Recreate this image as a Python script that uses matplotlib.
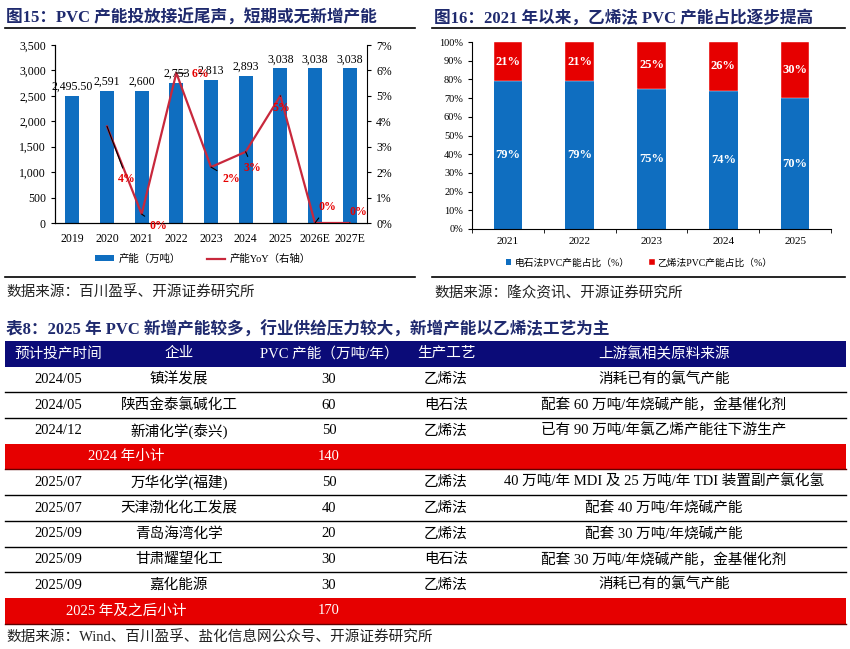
import matplotlib
matplotlib.use('Agg')
import matplotlib.pyplot as plt
import matplotlib.ticker as ticker
from matplotlib.patches import Rectangle, Patch
from matplotlib.lines import Line2D
import numpy as np

plt.rcParams['font.family'] = ['Liberation Serif', 'Noto Sans CJK SC']
plt.rcParams['axes.unicode_minus'] = False

W, H = 850, 649

# ---- fig 15 data
years15 = ['2019', '2020', '2021', '2022', '2023', '2024', '2025', '2026E', '2027E']
capacity = [2495.5, 2591, 2600, 2753, 2813, 2893, 3038, 3038, 3038]
cap_labels = ['2,495.50', '2,591', '2,600', '2,753', '2,813', '2,893', '3,038', '3,038', '3,038']
yoy = [np.nan, 3.8, 0.35, 5.9, 2.2, 2.8, 5.0, 0.0, 0.0]
yoy_labels = ['', '4%', '0%', '6%', '2%', '3%', '5%', '0%', '0%']

# ---- fig 16 data
years16 = ['2021', '2022', '2023', '2024', '2025']
calcium_share = [79, 79, 75, 74, 70]
ethylene_share = [21, 21, 25, 26, 30]

# ---- table 8 data
tbl_header = ['预计投产时间', '企业', 'PVC 产能（万吨/年）', '生产工艺', '上游氯相关原料来源']
plan_dates = ['2024/05', '2024/05', '2024/12', '2025/07', '2025/07', '2025/09', '2025/09', '2025/09']
companies = ['镇洋发展', '陕西金泰氯碱化工', '新浦化学(泰兴)', '万华化学(福建)', '天津渤化化工发展',
             '青岛海湾化学', '甘肃耀望化工', '嘉化能源']
new_caps = [30, 60, 50, 50, 40, 20, 30, 30]
processes = ['乙烯法', '电石法', '乙烯法', '乙烯法', '乙烯法', '乙烯法', '电石法', '乙烯法']
chlorine_src = ['消耗已有的氯气产能', '配套 60 万吨/年烧碱产能，金基催化剂', '已有 90 万吨/年氯乙烯产能往下游生产',
                '40 万吨/年 MDI 及 25 万吨/年 TDI 装置副产氯化氢', '配套 40 万吨/年烧碱产能', '配套 30 万吨/年烧碱产能',
                '配套 30 万吨/年烧碱产能，金基催化剂', '消耗已有的氯气产能']
subtotal_names = ['2024 年小计', '2025 年及之后小计']
subtotal_vals = [140, 170]
subtotal_after = [3, 8]

NAVY = '#1F2A6E'
BLUE = '#0F6EC0'
RED = '#E60000'
LINE_RED = '#C8283C'


def fx(x):
    return x / W


def fy(y):
    return 1 - y / H


fig = plt.figure(figsize=(8.5, 6.49), dpi=100)

# headings, rules and sources
fig.text(fx(6), fy(18), '图15：PVC 产能投放接近尾声，短期或无新增产能', fontsize=12, fontweight='bold',
         color=NAVY, va='center')
fig.text(fx(434), fy(18), '图16：2021 年以来，乙烯法 PVC 产能占比逐步提高', fontsize=12, fontweight='bold',
         color=NAVY, va='center')
fig.text(fx(6), fy(330), '表8：2025 年 PVC 新增产能较多，行业供给压力较大，新增产能以乙烯法工艺为主',
         fontsize=12, fontweight='bold', color=NAVY, va='center')
for x0, x1 in [(5, 415), (432, 845)]:
    for yy in [28, 277]:
        fig.add_artist(Line2D([fx(x0), fx(x1)], [fy(yy), fy(yy)], color='black', lw=1.2))
fig.text(fx(6), fy(293), '数据来源：百川盈孚、开源证券研究所', fontsize=10.5, color='#222222', va='center')
fig.text(fx(434), fy(293), '数据来源：隆众资讯、开源证券研究所', fontsize=10.5, color='#222222', va='center')
fig.text(fx(6), fy(637), '数据来源：Wind、百川盈孚、盐化信息网公众号、开源证券研究所', fontsize=10.5,
         color='#222222', va='center')

# ---- fig 15
ax1 = fig.add_axes([fx(55), fy(223), (367 - 55) / W, (223 - 45) / H])
x15 = np.arange(len(years15))
bars = ax1.bar(x15, capacity, width=0.4, color=BLUE, zorder=2)
for b, lab in zip(bars, cap_labels):
    ax1.annotate(lab, (b.get_x() + b.get_width() / 2, b.get_height()), xytext=(0, 3),
                 textcoords='offset pixels', ha='center', va='bottom', fontsize=8.5)
ax1.set_xlim(-0.5, len(years15) - 0.5)
ax1.set_ylim(0, 3500)
ax1.set_yticks(np.arange(0, 3501, 500))
ax1.yaxis.set_major_formatter(ticker.FuncFormatter(lambda v, p: format(int(v), ',')))
ax1.set_xticks(x15)
ax1.set_xticklabels(years15)
ax1.tick_params(axis='x', length=0, labelsize=8.5, pad=7)
ax1.tick_params(axis='y', labelsize=8.5, length=3, direction='out')
ax1.spines['top'].set_visible(False)
ax1.spines['right'].set_visible(False)

ax2 = ax1.twinx()
ax2.plot(x15, yoy, color=LINE_RED, lw=1.6, zorder=3)
ax2.set_ylim(0, 7)
ax2.set_yticks(np.arange(0, 8, 1))
ax2.yaxis.set_major_formatter(ticker.FuncFormatter(lambda v, p: '%d%%' % v))
ax2.tick_params(axis='y', labelsize=8.5, length=3, direction='out')
ax2.spines['top'].set_visible(False)

yoy_offsets = [(0, 0), (20, -53), (17, -12), (24, -1), (20, -12), (7, -16), (1, -12), (12, 16), (9, 11)]
for i, (v, lab) in enumerate(zip(yoy, yoy_labels)):
    if not lab:
        continue
    ax2.annotate(lab, (x15[i], v), xytext=yoy_offsets[i], textcoords='offset pixels',
                 ha='center', va='center', fontsize=8.5, fontweight='bold', color=RED,
                 arrowprops=dict(arrowstyle='-', color='black', lw=0.8, shrinkA=2, shrinkB=0))

leg1 = [Patch(facecolor=BLUE, label='产能（万吨）'),
        Line2D([0], [0], color=LINE_RED, lw=1.6, label='产能YoY（右轴）')]
fig.legend(handles=leg1, loc='center', bbox_to_anchor=(fx(203), fy(259)), ncol=2, frameon=False,
           fontsize=7.5, handlelength=1.8, handleheight=0.5, columnspacing=2.5, handletextpad=0.4)

# ---- fig 16
ax3 = fig.add_axes([fx(472), fy(229), (831 - 472) / W, (229 - 42) / H])
x16 = np.arange(len(years16))
b1 = ax3.bar(x16, calcium_share, width=0.4, color=BLUE, label='电石法PVC产能占比（%）')
b2 = ax3.bar(x16, ethylene_share, width=0.4, bottom=calcium_share, color=RED,
             label='乙烯法PVC产能占比（%）', edgecolor='white', linewidth=0.3)
for i in range(len(years16)):
    ax3.text(x16[i], calcium_share[i] / 2, '%d%%' % calcium_share[i], ha='center', va='center',
             color='white', fontsize=9, fontweight='bold')
    ax3.text(x16[i], calcium_share[i] + ethylene_share[i] / 2, '%d%%' % ethylene_share[i], ha='center',
             va='center', color='white', fontsize=9, fontweight='bold')
ax3.set_xlim(-0.5, len(years16) - 0.5)
ax3.set_ylim(0, 100)
ax3.set_yticks(np.arange(0, 101, 10))
ax3.yaxis.set_major_formatter(ticker.FuncFormatter(lambda v, p: '%d%%' % v))
ax3.set_xticks(x16)
ax3.set_xticklabels(years16)
ax3.set_xticks(np.arange(-0.5, len(years16), 1), minor=True)
ax3.tick_params(axis='x', which='major', length=0, labelsize=8, pad=6)
ax3.tick_params(axis='x', which='minor', length=3, direction='out')
ax3.tick_params(axis='y', labelsize=7.5, length=3, direction='out')
ax3.spines['top'].set_visible(False)
ax3.spines['right'].set_visible(False)
fig.legend(handles=[b1, b2], loc='center', bbox_to_anchor=(fx(639), fy(263)), ncol=2, frameon=False,
           fontsize=7, handlelength=0.6, handleheight=0.6, columnspacing=2.0, handletextpad=0.3)

# ---- table 8
axt = fig.add_axes([0, 0, 1, 1], zorder=-1)
axt.set_xlim(0, W)
axt.set_ylim(H, 0)
axt.axis('off')
col_x = [58, 179, 329, 446, 664]
tx0, tx1 = 5, 846
top, rh = 341, 25.7
axt.add_patch(Rectangle((tx0, top), tx1 - tx0, rh, facecolor='#0B0B78', edgecolor='none'))
for cx, h in zip(col_x, tbl_header):
    axt.text(cx, top + rh / 2, h, ha='center', va='center', color='white', fontsize=10.5)

y = top + rh
k = 0
for g, (name, val, stop) in enumerate(zip(subtotal_names, subtotal_vals, subtotal_after)):
    while k < stop:
        cells = [plan_dates[k], companies[k], str(new_caps[k]), processes[k], chlorine_src[k]]
        for cx, c in zip(col_x, cells):
            axt.text(cx, y + rh / 2, c, ha='center', va='center', color='black', fontsize=10.5)
        y += rh
        if k < stop - 1:
            axt.plot([tx0, tx1], [y, y], color='black', lw=1.0)
        k += 1
    axt.add_patch(Rectangle((tx0, y), tx1 - tx0, rh, facecolor=RED, edgecolor='none'))
    axt.plot([tx0, tx1], [y + rh, y + rh], color='#600000', lw=1.0)
    axt.text(126, y + rh / 2, name, ha='center', va='center', color='white', fontsize=10.5)
    axt.text(col_x[2], y + rh / 2, str(val), ha='center', va='center', color='white', fontsize=10.5)
    y += rh

fig.savefig('out.png', dpi=100)
